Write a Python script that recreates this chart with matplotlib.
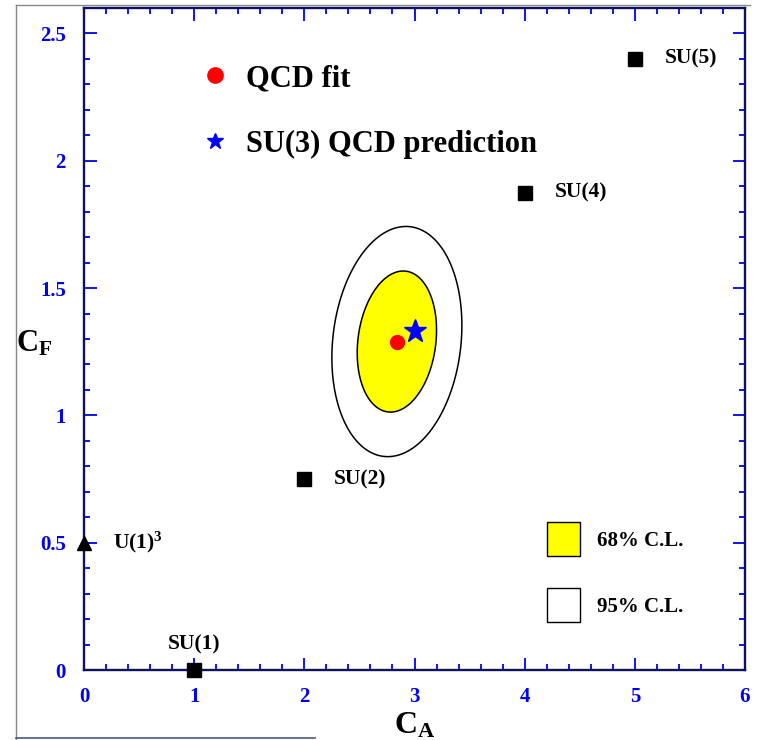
import numpy as np
import matplotlib
matplotlib.use('Agg')
import matplotlib.pyplot as plt
from matplotlib.lines import Line2D
from matplotlib.patches import Patch
from matplotlib.ticker import MultipleLocator, FuncFormatter

plt.rcParams['font.family'] = ['Liberation Serif', 'DejaVu Serif']
plt.rcParams['font.weight'] = 'bold'
plt.rcParams['mathtext.fontset'] = 'custom'
plt.rcParams['mathtext.rm'] = 'Liberation Serif:bold'
plt.rcParams['mathtext.it'] = 'Liberation Serif:bold'
plt.rcParams['mathtext.bf'] = 'Liberation Serif:bold'

# colour factors of the candidate groups
groups = ['SU(1)', 'SU(2)', 'SU(4)', 'SU(5)']
group_ca = [1.0, 2.0, 4.0, 5.0]
group_cf = [0.0, 0.75, 1.875, 2.4]
u1_ca, u1_cf = 0.0, 0.5

# fit result and SU(3) expectation
fit_ca, fit_cf = 2.84, 1.29
su3_ca, su3_cf = 3.0, 4.0 / 3.0

# contour half-widths (C_A, C_F) and correlation
cl_names = ['68% C.L.', '95% C.L.']
cl_sx = [0.36, 0.59]
cl_sy = [0.277, 0.452]
cl_rho = [0.16, 0.14]

navy = '#101060'
blue = '#0000f0'

fig = plt.figure(figsize=(7.58, 7.4), dpi=100)
ax = fig.add_axes([84 / 758, 70 / 740, 661 / 758, 662 / 740])

# page frame around the plot
fig.add_artist(Line2D([16 / 758, 16 / 758], [0, 735 / 740], color='#888888', lw=1))
fig.add_artist(Line2D([16 / 758, 750 / 758], [735 / 740, 735 / 740], color='#888888', lw=1))
fig.add_artist(Line2D([16 / 758, 315 / 758], [2 / 740, 2 / 740], color='#4a5a7a', lw=1.2))

t = np.linspace(0, 2 * np.pi, 400)
fills = ['white', '#ffff00']
for i in [1, 0]:
    ex = fit_ca + cl_sx[i] * np.cos(t)
    ey = fit_cf + cl_sy[i] * (cl_rho[i] * np.cos(t) + np.sqrt(1 - cl_rho[i] ** 2) * np.sin(t))
    ax.fill(ex, ey, facecolor=fills[1 - i], edgecolor='black', lw=1.1, zorder=2)

ax.plot(fit_ca, fit_cf, 'o', color='red', ms=10, zorder=4)
ax.plot(su3_ca, su3_cf, '*', color='blue', ms=17, zorder=5)

ax.plot(group_ca, group_cf, 's', color='black', ms=10, clip_on=False, zorder=5)
ax.plot(u1_ca, u1_cf, '^', color='black', ms=10, clip_on=False, zorder=5)

for name, x, y in zip(groups, group_ca, group_cf):
    if y == 0:
        ax.annotate(name, (x, y), xytext=(0, 18.5), textcoords='offset points',
                    ha='center', va='center', fontsize=15.5, fontweight='bold')
    else:
        ax.annotate(name, (x, y), xytext=(21.5, 0), textcoords='offset points',
                    ha='left', va='center', fontsize=15.5, fontweight='bold')
ax.annotate(r'U(1)$^{3}$', (u1_ca, u1_cf), xytext=(21, 0), textcoords='offset points',
            ha='left', va='center', fontsize=15.5, fontweight='bold')

ax.set_xlim(0, 6)
ax.set_ylim(0, 2.6)
ax.xaxis.set_major_locator(MultipleLocator(1))
ax.xaxis.set_minor_locator(MultipleLocator(0.2))
ax.yaxis.set_major_locator(MultipleLocator(0.5))
ax.yaxis.set_minor_locator(MultipleLocator(0.1))
ax.yaxis.set_major_formatter(FuncFormatter(lambda v, p: '%g' % v))
ax.xaxis.set_major_formatter(FuncFormatter(lambda v, p: '%g' % v))

ax.tick_params(which='both', direction='in', top=True, right=True, color=blue, width=1.3)
ax.tick_params(which='major', length=9, labelsize=15, labelcolor=blue)
ax.tick_params(axis='x', which='major', pad=12)
ax.tick_params(axis='y', which='major', pad=13)
ax.tick_params(which='minor', length=4.5)
for lab in ax.get_xticklabels() + ax.get_yticklabels():
    lab.set_fontweight('bold')
for s in ax.spines.values():
    s.set_color(navy)
    s.set_linewidth(1.7)

ax.set_xlabel(r'$C_{A}$', fontsize=23, va='baseline')
ax.xaxis.set_label_coords(0.5, -63 / 662)
ax.set_ylabel(r'$C_{F}$', fontsize=22, rotation=0, ha='center', va='center')
ax.yaxis.set_label_coords(-50 / 661, 326 / 662)

top_handles = [Line2D([], [], ls='none', marker='o', color='red', ms=11),
               Line2D([], [], ls='none', marker='*', color='blue', ms=12)]
leg1 = ax.legend(top_handles, ['QCD fit', 'SU(3) QCD prediction'], loc='upper left',
                 bbox_to_anchor=(116 / 661, 606 / 662), frameon=False,
                 prop={'size': 22, 'weight': 'bold'}, handlelength=1.0,
                 handletextpad=0.5, labelspacing=1.2, borderpad=0, borderaxespad=0)
ax.add_artist(leg1)

cl_handles = [Patch(facecolor='#ffff00', edgecolor='black', lw=1.0),
              Patch(facecolor='white', edgecolor='black', lw=1.0)]
ax.legend(cl_handles, cl_names, loc='upper left', bbox_to_anchor=(463 / 661, 148 / 662),
          frameon=False, prop={'size': 15, 'weight': 'bold'}, handlelength=1.6,
          handleheight=2.13, handletextpad=0.8, labelspacing=1.55, borderpad=0, borderaxespad=0)

fig.savefig('out.png', dpi=100)
